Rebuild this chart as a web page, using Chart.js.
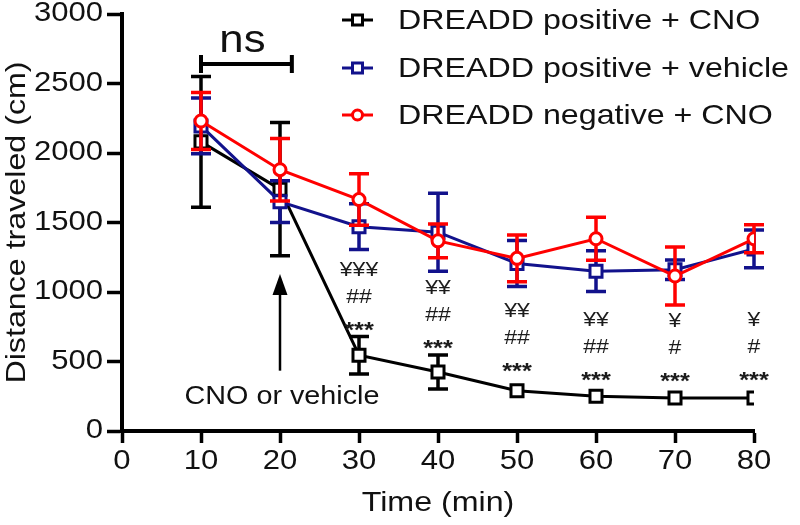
<!DOCTYPE html>
<html><head><meta charset="utf-8">
<script src="https://cdn.jsdelivr.net/npm/chart.js@4/dist/chart.umd.min.js"></script>
<style>html,body{margin:0;padding:0;background:#fff}#wrap{width:800px;height:525px}</style>
</head><body><div id="wrap"><canvas id="c" width="800" height="525"></canvas></div>
<script>
// ---- data ----
const times = [10, 20, 30, 40, 50, 60, 70, 80];
const seriesNames = ['DREADD positive + CNO', 'DREADD positive + vehicle', 'DREADD negative + CNO'];
const posCNO     = [2080, 1740, 545, 425, 290, 250, 237, 237];
const posCNOErr  = [470, 480, 135, 122, 30, 20, 15, 15];
const posVeh     = [2195, 1650, 1470, 1430, 1205, 1150, 1160, 1310];
const posVehErr  = [200, 150, 165, 280, 165, 147, 70, 136];
const negCNO     = [2230, 1880, 1665, 1368, 1242, 1383, 1115, 1383];
const negCNOErr  = [205, 225, 185, 122, 168, 155, 208, 100];
const xAxisTitle = 'Time (min)';
const yAxisTitle = 'Distance traveled (cm)';
// significance marks (time, marks, level of the *** row in cm)
const sigTimes = [30, 40, 50, 60, 70, 80];
const sigYen   = ['¥¥¥', '¥¥', '¥¥', '¥¥', '¥', '¥'];
const sigHash  = ['##', '##', '##', '##', '#', '#'];
const sigStar  = ['***', '***', '***', '***', '***', '***'];
const sigLevel = [763, 640, 470, 410, 398, 410];
// other annotations
const nsLabel = 'ns';
const nsFrom = 10, nsTo = 21.5, nsLevel = 2640;
const arrowTime = 20, arrowFrom = 434, arrowTo = 1129;
const arrowLabel = 'CNO or vehicle';
const arrowLabelLevel = 245;

const FONT = "'Liberation Sans', Arial, sans-serif";
const SX = 1.15; // horizontal text stretch seen in the reference

const canvas = document.getElementById('c');
const ctx0 = canvas.getContext('2d');
const origFill = ctx0.fillText.bind(ctx0);
const origMeasure = ctx0.measureText.bind(ctx0);
ctx0.fillText = function (t, x, y, mw) {
  this.save(); this.translate(x, y); this.scale(SX, 1);
  if (mw === undefined || mw === null) origFill(t, 0, 0); else origFill(t, 0, 0, mw / SX);
  this.restore();
};
ctx0.measureText = function (t) {
  const m = origMeasure(t);
  return {
    width: m.width * SX,
    actualBoundingBoxAscent: m.actualBoundingBoxAscent,
    actualBoundingBoxDescent: m.actualBoundingBoxDescent,
    actualBoundingBoxLeft: m.actualBoundingBoxLeft * SX,
    actualBoundingBoxRight: m.actualBoundingBoxRight * SX,
    fontBoundingBoxAscent: m.fontBoundingBoxAscent,
    fontBoundingBoxDescent: m.fontBoundingBoxDescent
  };
};

const BLACK = '#000000', BLUE = '#12128c', RED = '#ff0000';
function pts(vals) { return times.map((t, i) => ({x: t, y: vals[i]})); }

const datasets = [
  {label: seriesNames[0], data: pts(posCNO), errs: posCNOErr, borderColor: BLACK, backgroundColor: BLACK,
   pointStyle: 'rect', pointRadius: 8.5, pointBorderWidth: 3, pointBackgroundColor: '#fff', pointBorderColor: BLACK,
   borderWidth: 3, order: 2},
  {label: seriesNames[1], data: pts(posVeh), errs: posVehErr, borderColor: BLUE, backgroundColor: BLUE,
   pointStyle: 'rect', pointRadius: 8.5, pointBorderWidth: 3, pointBackgroundColor: '#fff', pointBorderColor: BLUE,
   borderWidth: 3, order: 1},
  {label: seriesNames[2], data: pts(negCNO), errs: negCNOErr, borderColor: RED, backgroundColor: RED,
   pointStyle: 'circle', pointRadius: 6, pointBorderWidth: 3, pointBackgroundColor: '#fff', pointBorderColor: RED,
   borderWidth: 3, order: 0}
];

const errPlugin = {
  id: 'errbars',
  beforeDatasetDraw(chart, args) {
    const ds = chart.data.datasets[args.index];
    const ys = chart.scales.y, ctx = chart.ctx;
    ctx.save();
    ctx.strokeStyle = ds.borderColor; ctx.lineWidth = 3.5; ctx.lineCap = 'butt';
    args.meta.data.forEach((el, i) => {
      const v = ds.data[i].y, e = ds.errs[i];
      const top = ys.getPixelForValue(v + e), bot = ys.getPixelForValue(v - e);
      if ((bot - top) / 2 < 8) return; // bar hidden behind the marker (as in Prism)
      ctx.beginPath();
      ctx.moveTo(el.x, top); ctx.lineTo(el.x, bot);
      ctx.moveTo(el.x - 10, top); ctx.lineTo(el.x + 10, top);
      ctx.moveTo(el.x - 10, bot); ctx.lineTo(el.x + 10, bot);
      ctx.stroke();
    });
    ctx.restore();
  }
};

const annPlugin = {
  id: 'ann',
  afterDraw(chart) {
    const ctx = chart.ctx, xs = chart.scales.x, ys = chart.scales.y;
    ctx.save();
    // ns bracket
    const bx1 = xs.getPixelForValue(nsFrom), bx2 = xs.getPixelForValue(nsTo), by = ys.getPixelForValue(nsLevel);
    ctx.strokeStyle = '#000'; ctx.lineWidth = 4;
    ctx.beginPath();
    ctx.moveTo(bx1, by); ctx.lineTo(bx2, by);
    ctx.moveTo(bx1, by - 9); ctx.lineTo(bx1, by + 9);
    ctx.moveTo(bx2, by - 9); ctx.lineTo(bx2, by + 9);
    ctx.stroke();
    ctx.fillStyle = '#111';
    ctx.font = '38px ' + FONT; ctx.textAlign = 'center'; ctx.textBaseline = 'alphabetic';
    ctx.fillText(nsLabel, (bx1 + bx2) / 2 - 4, by - 12);
    // arrow
    const ax = xs.getPixelForValue(arrowTime), ay0 = ys.getPixelForValue(arrowFrom), ay1 = ys.getPixelForValue(arrowTo);
    ctx.lineWidth = 2.5;
    ctx.beginPath(); ctx.moveTo(ax, ay0); ctx.lineTo(ax, ay1 + 18); ctx.stroke();
    ctx.fillStyle = '#000';
    ctx.beginPath(); ctx.moveTo(ax, ay1); ctx.lineTo(ax - 7.5, ay1 + 21); ctx.lineTo(ax + 7.5, ay1 + 21); ctx.closePath(); ctx.fill();
    ctx.fillStyle = '#111';
    ctx.font = '25px ' + FONT; ctx.textBaseline = 'middle';
    ctx.fillText(arrowLabel, ax + 2, ys.getPixelForValue(arrowLabelLevel));
    // significance marks
    ctx.fillStyle = '#1c1c1c';
    sigTimes.forEach((t, i) => {
      const x = xs.getPixelForValue(t), y = ys.getPixelForValue(sigLevel[i]);
      ctx.font = 'bold 22px ' + FONT; ctx.textBaseline = 'alphabetic';
      ctx.fillText(sigStar[i], x, y + 12.5);
      ctx.font = '20px ' + FONT; ctx.textBaseline = 'middle';
      ctx.fillText(sigHash[i], x, y - 27);
      ctx.fillText(sigYen[i], x, y - 54);
    });
    // legend
    const rows = [20, 68, 115];
    chart.data.datasets.forEach((ds, i) => {
      const y = rows[i];
      ctx.strokeStyle = ds.borderColor; ctx.lineWidth = 3;
      ctx.beginPath(); ctx.moveTo(342, y); ctx.lineTo(373, y); ctx.stroke();
      ctx.fillStyle = '#fff';
      ctx.beginPath();
      if (ds.pointStyle === 'circle') ctx.arc(357.5, y, 5, 0, Math.PI * 2);
      else ctx.rect(357.5 - 5, y - 5, 10, 10);
      ctx.fill(); ctx.stroke();
      ctx.fillStyle = '#111';
      ctx.font = '28px ' + FONT; ctx.textAlign = 'left'; ctx.textBaseline = 'middle';
      ctx.fillText(ds.label, 398, y + 1);
      ctx.textAlign = 'center';
    });
    ctx.restore();
  }
};

new Chart(ctx0, {
  type: 'line',
  data: {datasets},
  options: {
    responsive: false, animation: false, devicePixelRatio: 1,
    layout: {padding: {left: 0, right: 46, top: 14, bottom: 5}},
    plugins: {legend: {display: false}, tooltip: {enabled: false}},
    scales: {
      x: {
        type: 'linear', min: 0, max: 80,
        ticks: {stepSize: 10, color: '#111', font: {family: FONT, size: 27, lineHeight: 1}, padding: 5, maxRotation: 0, autoSkip: false,
                callback: v => String(v)},
        grid: {display: true, drawOnChartArea: false, drawTicks: true, tickLength: 12, tickWidth: 3.5, tickColor: '#000'},
        border: {display: true, color: '#000', width: 4},
        title: {display: true, text: xAxisTitle, color: '#111', font: {family: FONT, size: 28}, padding: 0},
        afterFit(s) { s.height = 89; }
      },
      y: {
        min: 0, max: 3000,
        ticks: {stepSize: 500, color: '#111', font: {family: FONT, size: 27, lineHeight: 0.7}, padding: 4,
                callback: v => String(v)},
        grid: {display: true, drawOnChartArea: false, drawTicks: true, tickLength: 15, tickWidth: 3.5, tickColor: '#000'},
        border: {display: true, color: '#000', width: 4},
        title: {display: true, text: yAxisTitle, color: '#111', font: {family: FONT, size: 28}, padding: 0},
        afterFit(s) { s.width = 122; }
      }
    }
  },
  plugins: [errPlugin, annPlugin]
});
</script></body></html>
